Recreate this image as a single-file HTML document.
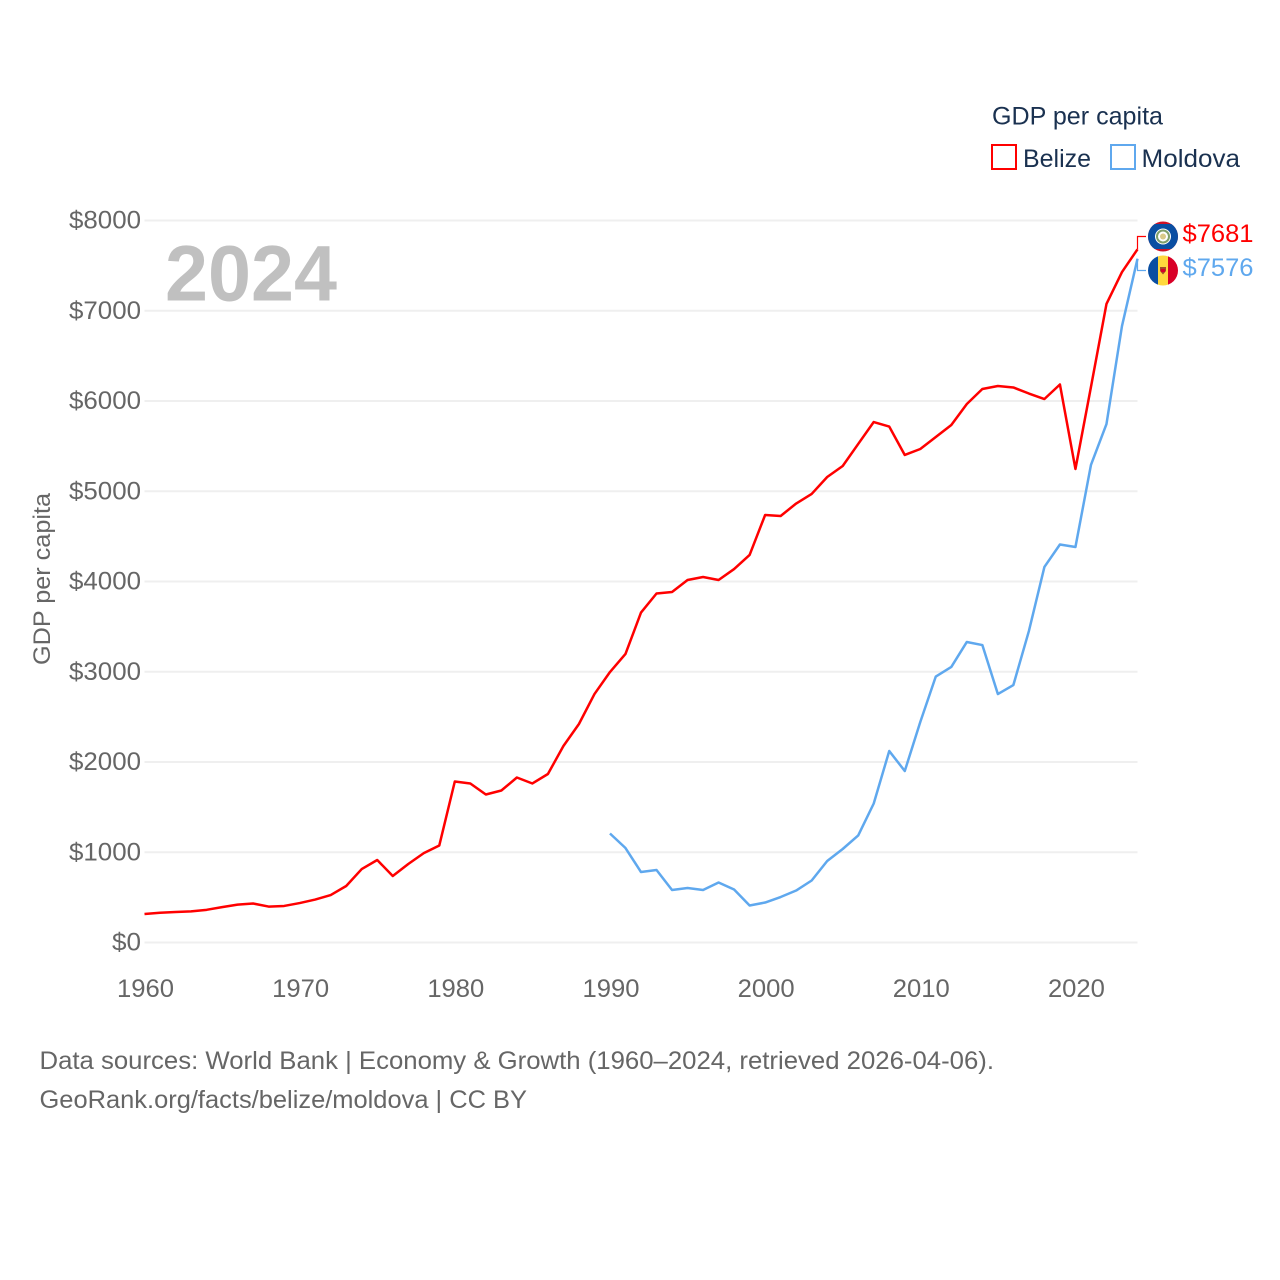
<!DOCTYPE html>
<html lang="en">
<head>
<meta charset="utf-8">
<title>GDP per capita: Belize and Moldova</title>
<style>
html,body{margin:0;padding:0;background:#fff;}
svg{display:block;font-family:"Liberation Sans",sans-serif;}
.tick{fill:#666;font-size:25px;}
.dark{fill:#1a3150;font-size:25px;}
.foot{fill:#666;font-size:25px;}
</style>
</head>
<body>
<svg id="chart" xmlns="http://www.w3.org/2000/svg" width="1280" height="1280" viewBox="0 0 1280 1280">
  <defs>
    <clipPath id="belize-clip"><circle cx="1163" cy="236.5" r="15"/></clipPath>
    <clipPath id="moldova-clip"><circle cx="1163" cy="270.5" r="15"/></clipPath>
  </defs>
  <rect width="1280" height="1280" fill="#fff"/>
  <g id="grid"></g>
  <g id="yticks"></g>
  <g id="xticks"></g>
  <text class="tick" style="font-size:24px" transform="translate(50,665) rotate(-90)" textLength="172" lengthAdjust="spacingAndGlyphs">GDP per capita</text>
  <text x="165" y="300.500" font-size="79" font-weight="700" fill="#c0c0c0" textLength="172" lengthAdjust="spacingAndGlyphs">2024</text>
  <g id="series"></g>

  <g>
    <text class="dark" x="992" y="124.500" textLength="171" lengthAdjust="spacingAndGlyphs">GDP per capita</text>
    <rect x="992" y="145" width="24" height="24" fill="#fff" stroke="#ff0000" stroke-width="2"/>
    <text class="dark" x="1023" y="167" textLength="68" lengthAdjust="spacingAndGlyphs">Belize</text>
    <rect x="1111" y="145" width="24" height="24" fill="#fff" stroke="#5fa8ee" stroke-width="2"/>
    <text class="dark" x="1141.500" y="167" textLength="98.500" lengthAdjust="spacingAndGlyphs">Moldova</text>
  </g>

  <g clip-path="url(#belize-clip)">
    <rect x="1148" y="221" width="30" height="31" fill="#ce1126"/>
    <rect x="1148" y="224" width="30" height="25" fill="#0a4ea2"/>
    <circle cx="1163" cy="236.5" r="8" fill="#fff"/>
    <circle cx="1163" cy="236.5" r="6" fill="none" stroke="#7f9f6a" stroke-width="2"/>
    <circle cx="1163" cy="236.5" r="3" fill="#d9c98a"/>
  </g>
  <g clip-path="url(#moldova-clip)">
    <rect x="1148" y="255" width="10" height="31" fill="#0a4ea2"/>
    <rect x="1158" y="255" width="10" height="31" fill="#ffd83d"/>
    <rect x="1168" y="255" width="10" height="31" fill="#d80027"/>
    <path d="M1160 267h6v4l-3 3.500-3-3.500z" fill="#a5492a"/>
    <rect x="1161" y="269" width="4" height="3" fill="#d80027"/>
  </g>

  <g id="labels"></g>

  <g>
    <text class="foot" x="39.500" y="1069" textLength="954.500" lengthAdjust="spacingAndGlyphs">Data sources: World Bank | Economy &amp; Growth (1960–2024, retrieved 2026-04-06).</text>
    <text class="foot" x="39.500" y="1108" textLength="487.500" lengthAdjust="spacingAndGlyphs">GeoRank.org/facts/belize/moldova | CC BY</text>
  </g>
</svg>
<script>
const yTickValues = [0, 1000, 2000, 3000, 4000, 5000, 6000, 7000, 8000];
const xTickYears = [1960, 1970, 1980, 1990, 2000, 2010, 2020];
const belizeStartYear = 1960;
const belizeValues = [316, 330, 338, 345, 362, 392, 420, 432, 398, 405, 437, 476, 526, 626, 814, 914, 737, 870, 990, 1075,
  1784, 1762, 1640, 1684, 1828, 1762, 1867, 2177, 2421, 2753, 2997, 3197, 3656, 3867, 3884, 4017, 4050, 4017, 4138, 4294,
  4737, 4726, 4864, 4970, 5158, 5280, 5524, 5767, 5717, 5402, 5468, 5601, 5734, 5967, 6133, 6166, 6150, 6083, 6022, 6183,
  5247, 6155, 7075, 7429, 7681];
const moldovaStartYear = 1990;
const moldovaValues = [1208, 1047, 781, 803, 582, 604, 582, 665, 587, 410,
  443, 504, 576, 687, 903, 1036, 1186, 1540, 2122, 1900, 2443, 2947, 3053, 3330, 3296, 2753, 2853, 3451, 4161, 4410,
  4382, 5291, 5745, 6830, 7576];

const SVGNS = 'http://www.w3.org/2000/svg';
function xScale(year) { return 144.5 + (year - 1960) * (1137.5 - 144.5) / (2024 - 1960); }
function yScale(value) { return 942.5 - value * (942.5 - 220.5) / 8000; }
function make(tag, attrs, parent, text) {
  const el = document.createElementNS(SVGNS, tag);
  for (const k in attrs) el.setAttribute(k, attrs[k]);
  if (text !== undefined) el.textContent = text;
  parent.appendChild(el);
  return el;
}
const gridG = document.getElementById('grid');
const yG = document.getElementById('yticks');
const xG = document.getElementById('xticks');
const seriesG = document.getElementById('series');
const labelsG = document.getElementById('labels');

yTickValues.forEach(function (v) {
  const line = make('line', {x1: 144.5, x2: 1137.5, y1: yScale(v), y2: yScale(v), stroke: '#efefef', 'stroke-width': 2}, gridG);
  
  
  const label = '$' + v;
  const t = make('text', {class: 'tick', x: 141, y: yScale(v) + 8, 'text-anchor': 'end', textLength: v === 0 ? 29 : 72, lengthAdjust: 'spacingAndGlyphs'}, yG, label);
  
  
});

xTickYears.forEach(function (yr) {
  const t = make('text', {class: 'tick', x: xScale(yr) + 1, y: 997, 'text-anchor': 'middle', textLength: 57, lengthAdjust: 'spacingAndGlyphs'}, xG, String(yr));
  
  
});

function linePoints(startYear, values) {
  return values.map(function (v, i) { return xScale(startYear + i).toFixed(2) + ',' + yScale(v).toFixed(2); }).join(' ');
}

const belizeLine = make('polyline', {points: linePoints(belizeStartYear, belizeValues), fill: 'none', stroke: '#ff0000', 'stroke-width': 2.5, 'stroke-linejoin': 'round'}, seriesG);


const moldovaLine = make('polyline', {points: linePoints(moldovaStartYear, moldovaValues), fill: 'none', stroke: '#5fa8ee', 'stroke-width': 2.5, 'stroke-linejoin': 'round'}, seriesG);



const belizeLast = belizeValues[belizeValues.length - 1];
const moldovaLast = moldovaValues[moldovaValues.length - 1];
const endX = xScale(2024);

const belizeLink = make('polyline', {points: endX + ',' + yScale(belizeLast) + ' ' + endX + ',236.5 1146,236.5', fill: 'none', stroke: '#ff0000', 'stroke-width': 1.2}, labelsG);


const moldovaLink = make('polyline', {points: endX + ',' + yScale(moldovaLast) + ' ' + endX + ',270.5 1146,270.5', fill: 'none', stroke: '#5fa8ee', 'stroke-width': 1.2}, labelsG);



const belizeLabel = make('text', {x: 1182.5, y: 242, 'font-size': 25, fill: '#ff0000', textLength: 71, lengthAdjust: 'spacingAndGlyphs'}, labelsG, '$' + belizeLast);


const moldovaLabel = make('text', {x: 1182.5, y: 276, 'font-size': 25, fill: '#5fa8ee', textLength: 71, lengthAdjust: 'spacingAndGlyphs'}, labelsG, '$' + moldovaLast);


</script>
</body>
</html>
